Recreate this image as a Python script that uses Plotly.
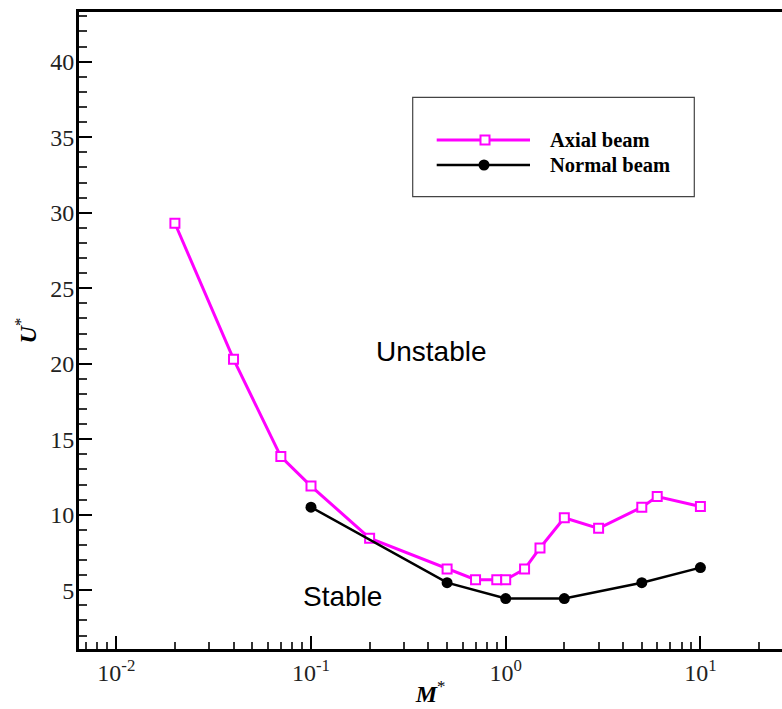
import plotly.graph_objects as go

# ---- data ----
axial_m = [0.02, 0.04, 0.07, 0.1, 0.2, 0.5, 0.7, 0.9, 1.0, 1.25, 1.5, 2.0, 3.0, 5.0, 6.0, 10.0]
axial_u = [29.3, 20.3, 13.85, 11.9, 8.45, 6.4, 5.7, 5.7, 5.7, 6.4, 7.8, 9.8, 9.1, 10.5, 11.2, 10.55]
normal_m = [0.1, 0.5, 1.0, 2.0, 5.0, 10.0]
normal_u = [10.5, 5.5, 4.45, 4.45, 5.5, 6.5]

x_major = [0.01, 0.1, 1, 10]
x_major_text = ["10<sup>-2</sup>", "10<sup>-1</sup>", "10<sup>0</sup>", "10<sup>1</sup>"]
x_minor = [m * 10 ** k for k in (-3, -2, -1, 0, 1) for m in range(2, 10)]
y_major = [5, 10, 15, 20, 25, 30, 35, 40]

MAGENTA = "#FF00FF"
SERIF = "Liberation Serif"
SANS = "Liberation Sans"

fig = go.Figure()
fig.add_trace(go.Scatter(
    x=axial_m, y=axial_u, mode="lines+markers", name="Axial beam",
    line=dict(color=MAGENTA, width=3),
    marker=dict(symbol="square", size=9, color="white", line=dict(color=MAGENTA, width=2)),
))
fig.add_trace(go.Scatter(
    x=normal_m, y=normal_u, mode="lines+markers", name="Normal beam",
    line=dict(color="black", width=2.5),
    marker=dict(symbol="circle", size=11, color="black"),
))

fig.update_layout(
    width=782, height=709,
    margin=dict(l=79, r=0, t=12, b=60),
    paper_bgcolor="white", plot_bgcolor="white",
    showlegend=False,
    font=dict(family=SERIF, color="black", size=24),
)

fig.update_xaxes(
    type="log", range=[-2.1916, 1.4191],
    showgrid=False, zeroline=False,
    showline=True, linecolor="black", linewidth=3, mirror=True,
    ticks="inside", ticklen=13, tickwidth=2, tickcolor="black",
    tickvals=x_major, ticktext=x_major_text,
    tickfont=dict(family=SERIF, size=24, color="#222"),
    minor=dict(ticks="inside", ticklen=7, tickwidth=1.5, tickcolor="#333", tickvals=x_minor, showgrid=False),
    title=dict(text="<b><i>M</i></b><sup>*</sup>", font=dict(family=SERIF, size=24, color="black"), standoff=1),
)
fig.update_yaxes(
    range=[1.11, 43.29],
    showgrid=False, zeroline=False,
    showline=True, linecolor="black", linewidth=3, mirror=False,
    ticks="inside", ticklen=13, tickwidth=2, tickcolor="black",
    tickvals=y_major, ticktext=[str(v) for v in y_major],
    tickfont=dict(family=SERIF, size=24, color="#222"),
    ticklabelstandoff=-3,
    minor=dict(ticks="inside", ticklen=8, tickwidth=1.5, tickcolor="#333", dtick=1, showgrid=False),
    title=dict(text="<b><i>U</i></b><sup>*</sup>", font=dict(family=SERIF, size=24, color="black"), standoff=7),
)

# ---- legend box (drawn to match the original's long legend samples) ----
def px_x(p):
    return (p - 79) / 703.0

def px_y(p):
    return (649 - p) / 637.0

shapes = [
    dict(type="rect", xref="paper", yref="paper",
         x0=px_x(412.7), x1=px_x(694.3), y0=px_y(196.7), y1=px_y(97.3),
         line=dict(color="#444", width=1.2), fillcolor="white", layer="below"),
    dict(type="line", xref="paper", yref="paper",
         x0=px_x(436.7), x1=px_x(530), y0=px_y(140), y1=px_y(140),
         line=dict(color=MAGENTA, width=3)),
    dict(type="line", xref="paper", yref="paper",
         x0=px_x(436.7), x1=px_x(530), y0=px_y(165), y1=px_y(165),
         line=dict(color="black", width=2.5)),
    dict(type="rect", xref="paper", yref="paper", xsizemode="pixel", ysizemode="pixel",
         xanchor=px_x(485), yanchor=px_y(140), x0=-4.5, x1=4.5, y0=-4.5, y1=4.5,
         line=dict(color=MAGENTA, width=2), fillcolor="white"),
    dict(type="circle", xref="paper", yref="paper", xsizemode="pixel", ysizemode="pixel",
         xanchor=px_x(484), yanchor=px_y(165), x0=-5.5, x1=5.5, y0=-5.5, y1=5.5,
         line=dict(color="black", width=0), fillcolor="black"),
]
fig.update_layout(shapes=shapes)

annotations = [
    dict(text="<b>Axial beam</b>", xref="paper", yref="paper", x=px_x(548), y=px_y(140),
         xanchor="left", yanchor="middle", showarrow=False, font=dict(family=SERIF, size=20.5, color="black")),
    dict(text="<b>Normal beam</b>", xref="paper", yref="paper", x=px_x(548), y=px_y(165),
         xanchor="left", yanchor="middle", showarrow=False, font=dict(family=SERIF, size=20.5, color="black")),
    dict(text="Unstable", xref="paper", yref="paper", x=px_x(431), y=px_y(352),
         xanchor="center", yanchor="middle", showarrow=False, font=dict(family=SANS, size=28, color="black")),
    dict(text="Stable", xref="paper", yref="paper", x=px_x(342), y=px_y(596),
         xanchor="center", yanchor="middle", showarrow=False, font=dict(family=SANS, size=28, color="black")),
]
fig.update_layout(annotations=annotations)

fig.write_html("out.html")
